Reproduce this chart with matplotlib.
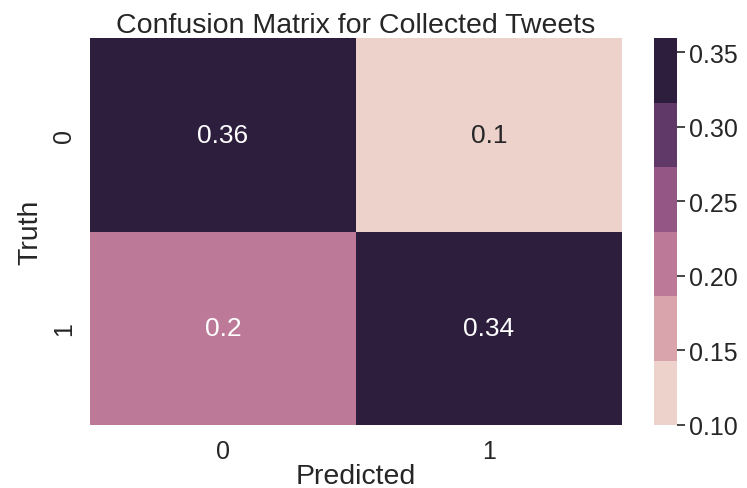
import numpy as np
import matplotlib
matplotlib.use('Agg')
import matplotlib.pyplot as plt
import seaborn as sns
from matplotlib.colors import ListedColormap

# Значения матрицы ошибок
truth_labels = ['0', '1']
pred_labels = ['0', '1']
row0 = [0.3594, 0.0998]
row1 = [0.2012, 0.3396]

sns.set_theme(style='white')
plt.rcParams['font.family'] = ['Liberation Sans', 'DejaVu Sans']

cm = np.array([row0, row1])
cmap = ListedColormap(sns.cubehelix_palette(6))

fig = plt.figure(figsize=(7.47, 4.89), dpi=100)
ax = fig.add_axes([90 / 747, 1 - 426 / 489, 532 / 747, 387 / 489])
cax = fig.add_axes([654 / 747, 1 - 426 / 489, 23 / 747, 387 / 489])

sns.heatmap(cm, annot=True, cmap=cmap, ax=ax, cbar_ax=cax,
            xticklabels=pred_labels, yticklabels=truth_labels,
            annot_kws={'fontsize': 19})

ax.set_title('Confusion Matrix for Collected Tweets', fontsize=20.5, color='#262626', pad=4)
ax.set_xlabel('Predicted', fontsize=20.5, color='#262626', labelpad=0)
ax.set_ylabel('Truth', fontsize=20.5, color='#262626', labelpad=6)
ax.tick_params(axis='both', length=0, labelsize=18, colors='#262626', pad=10)

cax.tick_params(axis='y', length=6, width=1.2, labelsize=18, colors='#262626', right=True, pad=3)
cax.set_yticks([0.10, 0.15, 0.20, 0.25, 0.30, 0.35])
cax.set_yticklabels(['0.10', '0.15', '0.20', '0.25', '0.30', '0.35'])

fig.savefig('out.png', dpi=100)
